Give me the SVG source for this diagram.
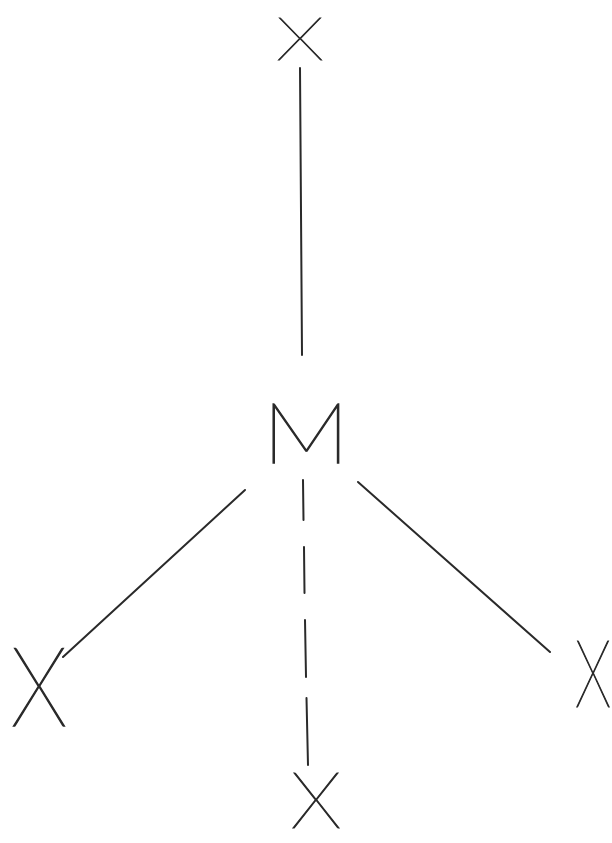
<svg xmlns="http://www.w3.org/2000/svg" width="612" height="843" viewBox="0 0 612 843">
<style>
.lbl{font-family:Lato,Inter,"Liberation Sans",sans-serif;font-weight:100;fill:#2a2a2a;stroke:#2a2a2a;stroke-width:1.3;text-anchor:middle}
.edge{stroke:#2a2a2a;stroke-width:2;fill:none;stroke-linecap:round}
</style>
<rect width="612" height="843" fill="#ffffff"/>
<g id="connectors">
<line class="edge" x1="300" y1="68" x2="302" y2="355"/>
<line class="edge" x1="245" y1="490" x2="63" y2="657"/>
<line class="edge" x1="358" y1="482" x2="550" y2="652"/>
<path class="edge" stroke-width="2.5" d="M303,480 L303.5,520 M304,547 L304.5,593 M305,620 L306,677 M306.5,698 L308,765"/>
</g>
<g id="node-m"><text class="lbl" font-size="84" transform="translate(306,463) scale(1.18,1)">M</text></g>
<g id="node-x-top"><text class="lbl" font-size="100" transform="translate(300,60) scale(0.8,0.6)">X</text></g>
<g id="node-x-left"><text class="lbl" font-size="100" transform="translate(39,726) scale(0.94,1.1)">X</text></g>
<g id="node-x-right"><text class="lbl" font-size="100" transform="translate(593,707) scale(0.6,0.94)">X</text></g>
<g id="node-x-bottom"><text class="lbl" font-size="100" transform="translate(316,828) scale(0.85,0.78)">X</text></g>
</svg>
